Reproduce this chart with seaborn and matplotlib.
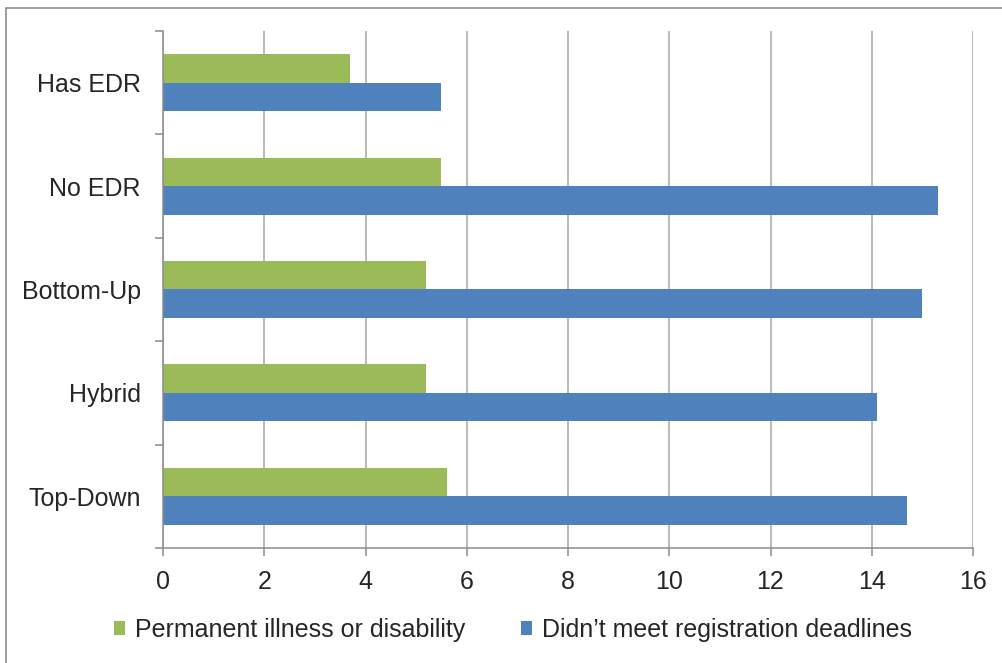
import matplotlib
matplotlib.use("Agg")
import matplotlib.pyplot as plt
import seaborn as sns
import pandas as pd
from matplotlib.patches import Rectangle, Patch

categories = ["Has EDR", "No EDR", "Bottom-Up", "Hybrid", "Top-Down"]
illness = [3.7, 5.5, 5.2, 5.2, 5.6]
deadlines = [5.5, 15.3, 15.0, 14.1, 14.7]
series_names = ["Permanent illness or disability", "Didn\u2019t meet registration deadlines"]
colors = ["#9BBB59", "#4F81BD"]
xticks = [0, 2, 4, 6, 8, 10, 12, 14, 16]

df = pd.DataFrame({
    "category": categories * 2,
    "value": illness + deadlines,
    "series": [series_names[0]] * len(categories) + [series_names[1]] * len(categories),
})

sns.set_theme(style="white")
plt.rcParams["font.family"] = ["Liberation Sans", "DejaVu Sans"]

fig = plt.figure(figsize=(10.03, 6.63), dpi=100)
ax = fig.add_axes([163 / 1003, 1 - 548 / 663, (973 - 163) / 1003, (548 - 31) / 663])

sns.barplot(data=df, y="category", x="value", hue="series", order=categories,
            hue_order=series_names, palette=colors, orient="h", width=0.55,
            gap=0, saturation=1, edgecolor="none", linewidth=0, ax=ax, legend=False)

ax.set_xlim(0, 16)
ax.set_ylim(len(categories) - 0.5, -0.5)
ax.set_xticks(xticks)
ax.set_xticklabels([str(t) for t in xticks])
ax.set_xlabel("")
ax.set_ylabel("")

grid_c = "#A6A6A6"
ax.grid(axis="x", color=grid_c, linewidth=1.1)
ax.grid(axis="y", visible=False)
ax.set_axisbelow(True)
for s in ["top", "right"]:
    ax.spines[s].set_visible(False)
for s in ["left", "bottom"]:
    ax.spines[s].set_color("#8C8C8C")
    ax.spines[s].set_linewidth(1.1)

ax.set_yticks([i - 0.5 for i in range(len(categories) + 1)], minor=True)
ax.tick_params(axis="y", which="major", length=0, pad=16, labelsize=18, labelcolor="#262626")
ax.tick_params(axis="y", which="minor", length=6, width=1.1, color="#8C8C8C", left=True)
ax.tick_params(axis="x", which="major", length=6, width=1.1, color="#8C8C8C", bottom=True,
               pad=10, labelsize=18, labelcolor="#262626")

handles = [Patch(facecolor=c, edgecolor="none") for c in colors]
fig.legend(handles, series_names, loc="center", bbox_to_anchor=(513 / 1003, 1 - 630 / 663),
           ncol=2, frameon=False, fontsize=18, handlelength=0.45, handleheight=0.45,
           handletextpad=0.4, columnspacing=2.2, labelcolor="#262626")

fig.patches.append(Rectangle((6 / 1003, -0.1), 1.2, 1 - 8 / 663 + 0.1, transform=fig.transFigure,
                             fill=False, edgecolor="#8C8C8C", linewidth=1.2))

fig.savefig("out.png", dpi=100)
